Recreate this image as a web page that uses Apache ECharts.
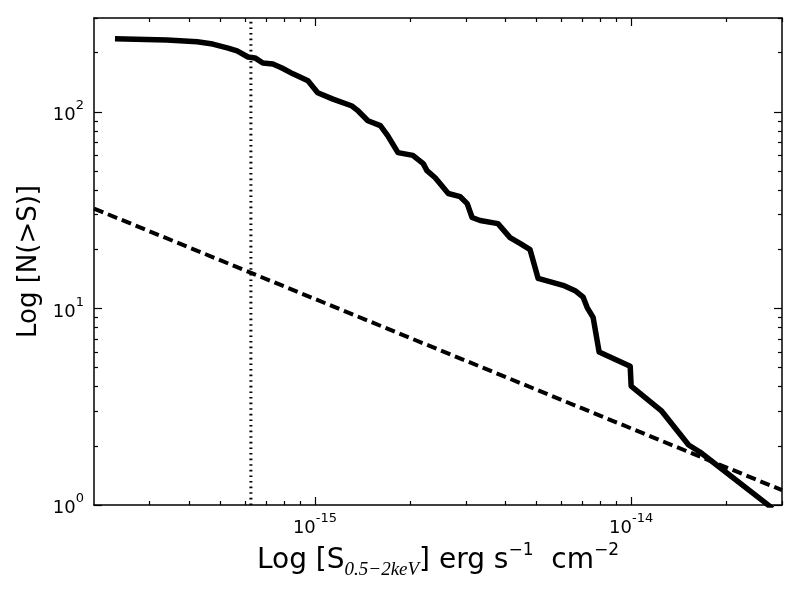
<!DOCTYPE html>
<html>
<head>
<meta charset="utf-8">
<script src="https://cdn.jsdelivr.net/npm/echarts@6/dist/echarts.min.js"></script>
<style>
  html, body { margin: 0; padding: 0; background: #fff; }
  #chart { width: 800px; height: 600px; }
</style>
</head>
<body>
<div id="chart"></div>
<script>
// cumulative counts N(>S)
const fluxS = [
  2.33e-16, 3.40e-16, 4.24e-16, 4.75e-16, 5.31e-16, 5.67e-16, 6.14e-16, 6.46e-16,
  6.84e-16, 7.36e-16, 7.86e-16, 8.52e-16, 9.50e-16, 1.02e-15, 1.14e-15, 1.31e-15,
  1.37e-15, 1.47e-15, 1.61e-15, 1.70e-15, 1.83e-15, 2.04e-15, 2.20e-15, 2.26e-15,
  2.40e-15, 2.64e-15, 2.88e-15, 3.03e-15, 3.14e-15, 3.33e-15, 3.79e-15, 4.14e-15,
  4.45e-15, 4.79e-15, 5.08e-15, 6.09e-15, 6.65e-15, 7.05e-15, 7.26e-15, 7.58e-15,
  7.92e-15, 9.93e-15, 1.00e-14, 1.25e-14, 1.52e-14, 1.65e-14, 2.69e-14, 2.80e-14
];
const countN = [
  235, 232, 227, 221, 211, 204, 190, 188,
  177, 175, 167, 156, 144, 125, 116, 107,
  101, 90, 85, 75.5, 62, 60, 54.5, 50.2,
  46.2, 38.4, 37.0, 34.1, 29.0, 28.0, 27.0, 22.9,
  21.4, 19.9, 14.2, 13.1, 12.3, 11.4, 10.1, 9.0,
  6.0, 5.08, 4.02, 3.0, 2.02, 1.86, 1.01, 0.96
];

// dashed reference power law
const refS = [2.0e-16, 3.0e-14];
const refN = [32.2, 1.19];

// dotted flux limit (vertical)
const limitS = [6.27e-16, 6.27e-16];
const limitN = [1, 300];

const xMajor = [1e-15, 1e-14];
const xMinor = [
  3e-16, 4e-16, 5e-16, 6e-16, 7e-16, 8e-16, 9e-16,
  2e-15, 3e-15, 4e-15, 5e-15, 6e-15, 7e-15, 8e-15, 9e-15,
  2e-14, 3e-14
];
const yMajor = [1, 10, 100];
const yMinor = [2, 3, 4, 5, 6, 7, 8, 9, 20, 30, 40, 50, 60, 70, 80, 90, 200, 300];

const FONT = "DejaVu Sans";

const tickRich = {
  b: { fontSize: 18, fontFamily: FONT, color: "#000", lineHeight: 25, verticalAlign: "bottom" },
  s: { fontSize: 13, fontFamily: FONT, color: "#000", lineHeight: 25, verticalAlign: "top" }
};

function powLabel(v) {
  const e = Math.round(Math.log10(v));
  return "{b|10}{s|" + e + "}";
}

function xAxisDef(pos, ticks, len, withLine, withLabel) {
  return {
    type: "log", logBase: 10, position: pos, gridIndex: 0,
    min: 2e-16, max: 3e-14,
    axisLine: { show: withLine, onZero: false, lineStyle: { color: "#000", width: 1.5 } },
    axisTick: { show: true, inside: true, length: len, customValues: ticks,
      lineStyle: { color: "#000", width: 1.2 } },
    axisLabel: withLabel
      ? { show: true, customValues: ticks, formatter: powLabel, rich: tickRich, margin: 7 }
      : { show: false },
    splitLine: { show: false },
    minorTick: { show: false }
  };
}

function yAxisDef(pos, ticks, len, withLine, withLabel) {
  return {
    type: "log", logBase: 10, position: pos, gridIndex: 0,
    min: 1, max: 300,
    axisLine: { show: withLine, onZero: false, lineStyle: { color: "#000", width: 1.5 } },
    axisTick: { show: true, inside: true, length: len, customValues: ticks,
      lineStyle: { color: "#000", width: 1.2 } },
    axisLabel: withLabel
      ? { show: true, customValues: ticks, formatter: powLabel, rich: tickRich, margin: 10 }
      : { show: false },
    splitLine: { show: false },
    minorTick: { show: false }
  };
}

const xAxes = [
  xAxisDef("bottom", xMajor, 8, true, true),
  xAxisDef("bottom", xMinor, 4, false, false),
  xAxisDef("top", xMajor, 8, true, false),
  xAxisDef("top", xMinor, 4, false, false)
];
Object.assign(xAxes[0], {
  name: "{n|Log [S}{sub|0.5\u22122keV}{n|] erg s}{sup|\u22121}{n|  cm}{sup|\u22122}",
  nameLocation: "middle",
  nameGap: 34,
  nameTextStyle: {
    rich: {
      n: { fontSize: 28, fontFamily: FONT, color: "#000", lineHeight: 38, verticalAlign: "middle" },
      sub: { fontSize: 19, fontFamily: "Liberation Serif", fontStyle: "italic", color: "#000", lineHeight: 38, verticalAlign: "bottom" },
      sup: { fontSize: 17, fontFamily: FONT, color: "#000", lineHeight: 38, verticalAlign: "top" }
    }
  }
});

const yAxes = [
  yAxisDef("left", yMajor, 8, true, true),
  yAxisDef("left", yMinor, 4, false, false),
  yAxisDef("right", yMajor, 8, true, false),
  yAxisDef("right", yMinor, 4, false, false)
];
Object.assign(yAxes[0], {
  name: "Log [N(>S)]",
  nameLocation: "middle",
  nameGap: 52,
  nameRotate: 90,
  nameTextStyle: { fontSize: 26, fontFamily: FONT, color: "#000" }
});

const chart = echarts.init(document.getElementById("chart"), null, { renderer: "canvas" });
chart.setOption({
  animation: false,
  backgroundColor: "#fff",
  grid: { left: 94, right: 18, top: 18, bottom: 95, containLabel: false },
  xAxis: xAxes,
  yAxis: yAxes,
  series: [
    {
      type: "line",
      xAxisIndex: 0, yAxisIndex: 0,
      data: fluxS.map((s, i) => [s, countN[i]]),
      showSymbol: false,
      clip: true,
      lineStyle: { color: "#000", width: 5.5, join: "round" },
      z: 3
    },
    {
      type: "line",
      xAxisIndex: 0, yAxisIndex: 0,
      data: refS.map((s, i) => [s, refN[i]]),
      showSymbol: false,
      clip: true,
      lineStyle: { color: "#000", width: 4, type: [10, 5] },
      z: 2
    },
    {
      type: "line",
      xAxisIndex: 0, yAxisIndex: 0,
      data: limitS.map((s, i) => [s, limitN[i]]),
      showSymbol: false,
      clip: true,
      lineStyle: { color: "#000", width: 3, type: [1.6, 4] },
      z: 2
    }
  ]
});
</script>
</body>
</html>
